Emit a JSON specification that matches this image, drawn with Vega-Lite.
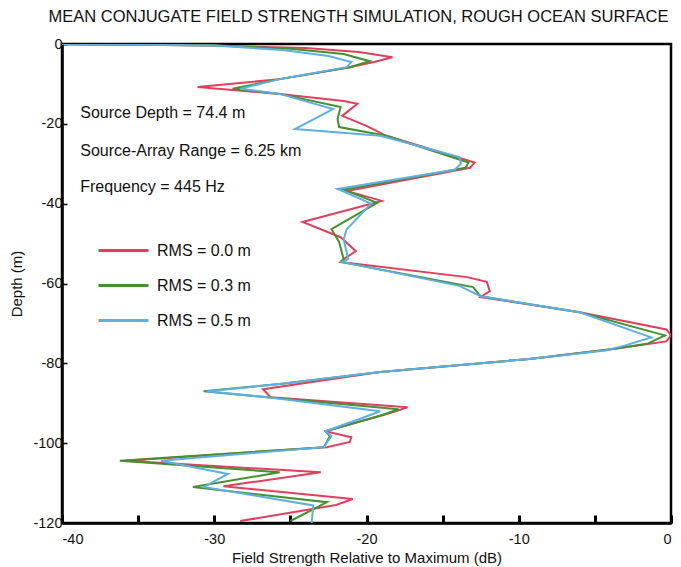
{
  "$schema": "https://vega.github.io/schema/vega-lite/v6.json",
  "width": 609,
  "height": 479,
  "autosize": "none",
  "padding": {"left": 62, "top": 44, "right": 10, "bottom": 44},
  "title": {"text": "MEAN CONJUGATE FIELD STRENGTH SIMULATION, ROUGH OCEAN SURFACE", "font": "Liberation Sans", "fontSize": 16.5, "fontWeight": "normal", "color": "#111", "anchor": "middle", "offset": 11, "dx": -8},
  "config": {
    "view": {"stroke": "#000", "strokeWidth": 2.5},
    "font": "Liberation Sans",
    "axis": {"grid": false, "domainColor": "#000", "domainWidth": 2.5, "tickColor": "#000", "labelColor": "#111", "titleColor": "#111", "labelFont": "Liberation Sans", "titleFont": "Liberation Sans", "labelFontSize": 14.5, "titleFontSize": 15, "titleFontWeight": "normal"}
  },
  "datasets": {
    "curves": [
      {"rms": "RMS = 0.0 m", "i": 1, "depth": 0, "db": -40},
      {"rms": "RMS = 0.0 m", "i": 2, "depth": -0.4, "db": -30},
      {"rms": "RMS = 0.0 m", "i": 3, "depth": -1.0, "db": -24},
      {"rms": "RMS = 0.0 m", "i": 4, "depth": -2.0, "db": -20.5},
      {"rms": "RMS = 0.0 m", "i": 5, "depth": -3.3, "db": -18.3},
      {"rms": "RMS = 0.0 m", "i": 6, "depth": -4.5, "db": -19.5},
      {"rms": "RMS = 0.0 m", "i": 7, "depth": -5.8, "db": -21.1},
      {"rms": "RMS = 0.0 m", "i": 8, "depth": -8.8, "db": -25.7},
      {"rms": "RMS = 0.0 m", "i": 9, "depth": -10.8, "db": -31.1},
      {"rms": "RMS = 0.0 m", "i": 10, "depth": -12.5, "db": -25.7},
      {"rms": "RMS = 0.0 m", "i": 11, "depth": -14.3, "db": -21.5},
      {"rms": "RMS = 0.0 m", "i": 12, "depth": -15.0, "db": -20.6},
      {"rms": "RMS = 0.0 m", "i": 13, "depth": -18.0, "db": -21.6},
      {"rms": "RMS = 0.0 m", "i": 14, "depth": -20.5, "db": -20.0},
      {"rms": "RMS = 0.0 m", "i": 15, "depth": -23.0, "db": -18.7},
      {"rms": "RMS = 0.0 m", "i": 16, "depth": -29.7, "db": -12.9},
      {"rms": "RMS = 0.0 m", "i": 17, "depth": -31.0, "db": -13.2},
      {"rms": "RMS = 0.0 m", "i": 18, "depth": -36.8, "db": -21.3},
      {"rms": "RMS = 0.0 m", "i": 19, "depth": -39.3, "db": -19.0},
      {"rms": "RMS = 0.0 m", "i": 20, "depth": -44.6, "db": -24.2},
      {"rms": "RMS = 0.0 m", "i": 21, "depth": -48.4, "db": -21.7},
      {"rms": "RMS = 0.0 m", "i": 22, "depth": -51.9, "db": -20.7},
      {"rms": "RMS = 0.0 m", "i": 23, "depth": -53.9, "db": -21.5},
      {"rms": "RMS = 0.0 m", "i": 24, "depth": -54.6, "db": -21.7},
      {"rms": "RMS = 0.0 m", "i": 25, "depth": -58.4, "db": -13.4},
      {"rms": "RMS = 0.0 m", "i": 26, "depth": -59.6, "db": -12.1},
      {"rms": "RMS = 0.0 m", "i": 27, "depth": -61.9, "db": -11.9},
      {"rms": "RMS = 0.0 m", "i": 28, "depth": -63.4, "db": -12.5},
      {"rms": "RMS = 0.0 m", "i": 29, "depth": -67.2, "db": -6.0},
      {"rms": "RMS = 0.0 m", "i": 30, "depth": -71.5, "db": -0.3},
      {"rms": "RMS = 0.0 m", "i": 31, "depth": -73.0, "db": 0},
      {"rms": "RMS = 0.0 m", "i": 32, "depth": -74.5, "db": -0.3},
      {"rms": "RMS = 0.0 m", "i": 33, "depth": -76.4, "db": -3.8},
      {"rms": "RMS = 0.0 m", "i": 34, "depth": -78.9, "db": -9.3},
      {"rms": "RMS = 0.0 m", "i": 35, "depth": -82.2, "db": -19.1},
      {"rms": "RMS = 0.0 m", "i": 36, "depth": -86.5, "db": -26.8},
      {"rms": "RMS = 0.0 m", "i": 37, "depth": -88.5, "db": -26.3},
      {"rms": "RMS = 0.0 m", "i": 38, "depth": -91.0, "db": -17.3},
      {"rms": "RMS = 0.0 m", "i": 39, "depth": -92.5, "db": -18.5},
      {"rms": "RMS = 0.0 m", "i": 40, "depth": -97.0, "db": -22.7},
      {"rms": "RMS = 0.0 m", "i": 41, "depth": -98.5, "db": -21.0},
      {"rms": "RMS = 0.0 m", "i": 42, "depth": -99.7, "db": -21.1},
      {"rms": "RMS = 0.0 m", "i": 43, "depth": -101.0, "db": -22.6},
      {"rms": "RMS = 0.0 m", "i": 44, "depth": -104.4, "db": -35.8},
      {"rms": "RMS = 0.0 m", "i": 45, "depth": -107.3, "db": -23.0},
      {"rms": "RMS = 0.0 m", "i": 46, "depth": -110.8, "db": -29.4},
      {"rms": "RMS = 0.0 m", "i": 47, "depth": -114.0, "db": -20.9},
      {"rms": "RMS = 0.0 m", "i": 48, "depth": -115.5, "db": -22.0},
      {"rms": "RMS = 0.0 m", "i": 49, "depth": -119.5, "db": -28.3},

      {"rms": "RMS = 0.3 m", "i": 1, "depth": 0, "db": -40},
      {"rms": "RMS = 0.3 m", "i": 2, "depth": -0.4, "db": -30},
      {"rms": "RMS = 0.3 m", "i": 3, "depth": -1.2, "db": -25},
      {"rms": "RMS = 0.3 m", "i": 4, "depth": -2.5, "db": -21.5},
      {"rms": "RMS = 0.3 m", "i": 5, "depth": -4.3, "db": -19.8},
      {"rms": "RMS = 0.3 m", "i": 6, "depth": -5.8, "db": -21.1},
      {"rms": "RMS = 0.3 m", "i": 7, "depth": -8.8, "db": -25.7},
      {"rms": "RMS = 0.3 m", "i": 8, "depth": -11.2, "db": -28.8},
      {"rms": "RMS = 0.3 m", "i": 9, "depth": -12.5, "db": -25.7},
      {"rms": "RMS = 0.3 m", "i": 10, "depth": -15.8, "db": -21.7},
      {"rms": "RMS = 0.3 m", "i": 11, "depth": -18.8, "db": -21.9},
      {"rms": "RMS = 0.3 m", "i": 12, "depth": -20.8, "db": -21.8},
      {"rms": "RMS = 0.3 m", "i": 13, "depth": -23.0, "db": -18.7},
      {"rms": "RMS = 0.3 m", "i": 14, "depth": -29.7, "db": -13.3},
      {"rms": "RMS = 0.3 m", "i": 15, "depth": -31.0, "db": -13.5},
      {"rms": "RMS = 0.3 m", "i": 16, "depth": -36.5, "db": -21.5},
      {"rms": "RMS = 0.3 m", "i": 17, "depth": -39.8, "db": -19.3},
      {"rms": "RMS = 0.3 m", "i": 18, "depth": -46.4, "db": -22.3},
      {"rms": "RMS = 0.3 m", "i": 19, "depth": -49.6, "db": -21.8},
      {"rms": "RMS = 0.3 m", "i": 20, "depth": -53.9, "db": -21.5},
      {"rms": "RMS = 0.3 m", "i": 21, "depth": -54.6, "db": -21.7},
      {"rms": "RMS = 0.3 m", "i": 22, "depth": -60.9, "db": -13.0},
      {"rms": "RMS = 0.3 m", "i": 23, "depth": -63.2, "db": -12.5},
      {"rms": "RMS = 0.3 m", "i": 24, "depth": -67.2, "db": -6.0},
      {"rms": "RMS = 0.3 m", "i": 25, "depth": -73.0, "db": -0.4},
      {"rms": "RMS = 0.3 m", "i": 26, "depth": -75.0, "db": -1.5},
      {"rms": "RMS = 0.3 m", "i": 27, "depth": -76.4, "db": -3.8},
      {"rms": "RMS = 0.3 m", "i": 28, "depth": -78.9, "db": -9.3},
      {"rms": "RMS = 0.3 m", "i": 29, "depth": -82.2, "db": -19.1},
      {"rms": "RMS = 0.3 m", "i": 30, "depth": -85.2, "db": -25.7},
      {"rms": "RMS = 0.3 m", "i": 31, "depth": -87.0, "db": -30.7},
      {"rms": "RMS = 0.3 m", "i": 32, "depth": -88.5, "db": -26.5},
      {"rms": "RMS = 0.3 m", "i": 33, "depth": -91.5, "db": -17.9},
      {"rms": "RMS = 0.3 m", "i": 34, "depth": -93.0, "db": -19.0},
      {"rms": "RMS = 0.3 m", "i": 35, "depth": -97.0, "db": -22.7},
      {"rms": "RMS = 0.3 m", "i": 36, "depth": -98.2, "db": -22.4},
      {"rms": "RMS = 0.3 m", "i": 37, "depth": -101.0, "db": -22.8},
      {"rms": "RMS = 0.3 m", "i": 38, "depth": -104.4, "db": -36.2},
      {"rms": "RMS = 0.3 m", "i": 39, "depth": -107.3, "db": -25.7},
      {"rms": "RMS = 0.3 m", "i": 40, "depth": -111.0, "db": -31.4},
      {"rms": "RMS = 0.3 m", "i": 41, "depth": -114.8, "db": -22.6},
      {"rms": "RMS = 0.3 m", "i": 42, "depth": -119.5, "db": -25.0},

      {"rms": "RMS = 0.5 m", "i": 1, "depth": 0, "db": -40},
      {"rms": "RMS = 0.5 m", "i": 2, "depth": -0.4, "db": -30},
      {"rms": "RMS = 0.5 m", "i": 3, "depth": -1.5, "db": -25.5},
      {"rms": "RMS = 0.5 m", "i": 4, "depth": -3.0, "db": -22.5},
      {"rms": "RMS = 0.5 m", "i": 5, "depth": -4.5, "db": -21.0},
      {"rms": "RMS = 0.5 m", "i": 6, "depth": -5.8, "db": -21.3},
      {"rms": "RMS = 0.5 m", "i": 7, "depth": -8.8, "db": -25.7},
      {"rms": "RMS = 0.5 m", "i": 8, "depth": -11.2, "db": -28.3},
      {"rms": "RMS = 0.5 m", "i": 9, "depth": -12.5, "db": -25.7},
      {"rms": "RMS = 0.5 m", "i": 10, "depth": -16.3, "db": -22.2},
      {"rms": "RMS = 0.5 m", "i": 11, "depth": -21.3, "db": -24.7},
      {"rms": "RMS = 0.5 m", "i": 12, "depth": -23.0, "db": -19.1},
      {"rms": "RMS = 0.5 m", "i": 13, "depth": -28.3, "db": -13.9},
      {"rms": "RMS = 0.5 m", "i": 14, "depth": -30.0, "db": -13.8},
      {"rms": "RMS = 0.5 m", "i": 15, "depth": -31.5, "db": -14.2},
      {"rms": "RMS = 0.5 m", "i": 16, "depth": -36.3, "db": -21.9},
      {"rms": "RMS = 0.5 m", "i": 17, "depth": -40.0, "db": -19.7},
      {"rms": "RMS = 0.5 m", "i": 18, "depth": -46.4, "db": -21.3},
      {"rms": "RMS = 0.5 m", "i": 19, "depth": -48.9, "db": -21.5},
      {"rms": "RMS = 0.5 m", "i": 20, "depth": -53.9, "db": -21.2},
      {"rms": "RMS = 0.5 m", "i": 21, "depth": -54.6, "db": -21.6},
      {"rms": "RMS = 0.5 m", "i": 22, "depth": -60.6, "db": -13.9},
      {"rms": "RMS = 0.5 m", "i": 23, "depth": -63.2, "db": -12.5},
      {"rms": "RMS = 0.5 m", "i": 24, "depth": -67.2, "db": -6.0},
      {"rms": "RMS = 0.5 m", "i": 25, "depth": -73.5, "db": -1.3},
      {"rms": "RMS = 0.5 m", "i": 26, "depth": -75.5, "db": -3.0},
      {"rms": "RMS = 0.5 m", "i": 27, "depth": -76.8, "db": -4.3},
      {"rms": "RMS = 0.5 m", "i": 28, "depth": -78.9, "db": -9.3},
      {"rms": "RMS = 0.5 m", "i": 29, "depth": -82.2, "db": -19.1},
      {"rms": "RMS = 0.5 m", "i": 30, "depth": -85.2, "db": -25.7},
      {"rms": "RMS = 0.5 m", "i": 31, "depth": -87.0, "db": -30.5},
      {"rms": "RMS = 0.5 m", "i": 32, "depth": -88.5, "db": -26.5},
      {"rms": "RMS = 0.5 m", "i": 33, "depth": -92.0, "db": -19.1},
      {"rms": "RMS = 0.5 m", "i": 34, "depth": -94.0, "db": -20.5},
      {"rms": "RMS = 0.5 m", "i": 35, "depth": -97.0, "db": -22.7},
      {"rms": "RMS = 0.5 m", "i": 36, "depth": -98.2, "db": -22.3},
      {"rms": "RMS = 0.5 m", "i": 37, "depth": -101.0, "db": -22.8},
      {"rms": "RMS = 0.5 m", "i": 38, "depth": -104.4, "db": -33.5},
      {"rms": "RMS = 0.5 m", "i": 39, "depth": -107.7, "db": -29.1},
      {"rms": "RMS = 0.5 m", "i": 40, "depth": -111.0, "db": -30.7},
      {"rms": "RMS = 0.5 m", "i": 41, "depth": -115.6, "db": -23.5},
      {"rms": "RMS = 0.5 m", "i": 42, "depth": -120.0, "db": -23.6}
    ],
    "notes": [
      {"label": "Source Depth = 74.4 m", "xv": -38.8, "yv": -17.3},
      {"label": "Source-Array Range = 6.25 km", "xv": -38.8, "yv": -26.8},
      {"label": "Frequency = 445 Hz", "xv": -38.8, "yv": -35.8}
    ]
  },
  "layer": [
    {
      "data": {"name": "curves"},
      "mark": {"type": "line", "strokeWidth": 2, "clip": true},
      "encoding": {
        "x": {"field": "db", "type": "quantitative", "scale": {"domain": [-40, 0], "nice": false, "zero": false},
          "axis": {"title": "Field Strength Relative to Maximum (dB)", "values": [-40, -35, -30, -25, -20, -15, -10, -5, 0], "labelExpr": "datum.value % 10 === 0 ? '' + datum.value : ''", "tickSize": -8, "tickWidth": 3, "labelPadding": 17, "titlePadding": 5}},
        "y": {"field": "depth", "type": "quantitative", "scale": {"domain": [-120, 0], "nice": false, "zero": false},
          "axis": {"title": "Depth (m)", "values": [-120, -100, -80, -60, -40, -20, 0], "labelExpr": "'' + datum.value", "tickSize": -5, "tickWidth": 1.5, "labelPadding": 5, "titlePadding": 8}},
        "color": {"field": "rms", "type": "nominal",
          "scale": {"domain": ["RMS = 0.0 m", "RMS = 0.3 m", "RMS = 0.5 m"], "range": ["#e0405e", "#46902f", "#5eb0e2"]},
          "legend": {"title": null, "orient": "none", "legendX": 35, "legendY": 180, "symbolType": "stroke", "symbolSize": 2500, "symbolStrokeWidth": 3, "rowPadding": -12, "labelFontSize": 16, "labelFont": "Liberation Sans", "labelColor": "#111", "labelOffset": 7, "padding": 0}},
        "order": {"field": "i", "type": "quantitative"}
      }
    },
    {
      "data": {"name": "notes"},
      "mark": {"type": "text", "align": "left", "baseline": "middle", "fontSize": 16, "font": "Liberation Sans", "color": "#111"},
      "encoding": {
        "x": {"field": "xv", "type": "quantitative"},
        "y": {"field": "yv", "type": "quantitative"},
        "text": {"field": "label"}
      }
    }
  ]
}
